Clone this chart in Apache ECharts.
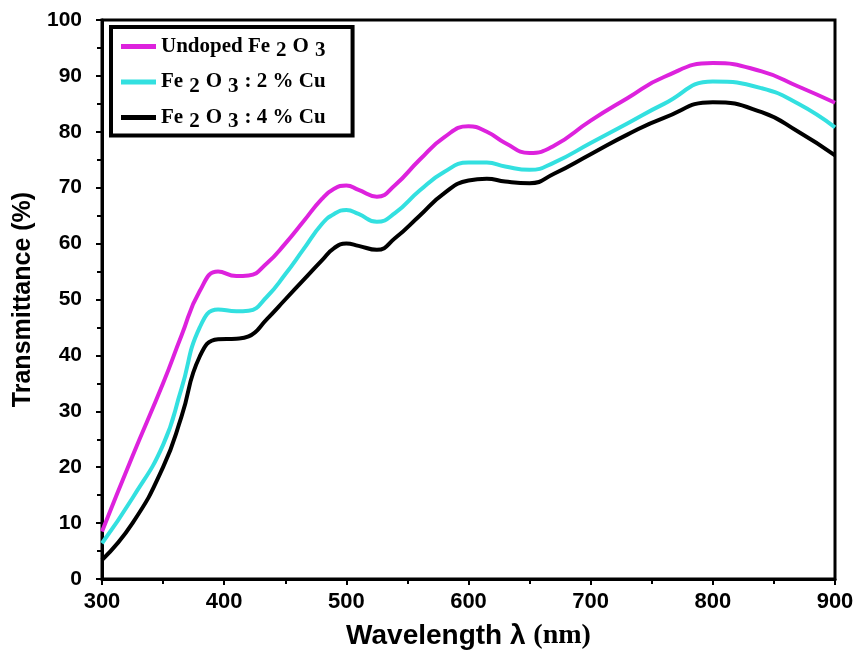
<!DOCTYPE html>
<html>
<head>
<meta charset="utf-8">
<script src="https://cdn.jsdelivr.net/npm/echarts@6/dist/echarts.min.js"></script>
<style>html,body{margin:0;padding:0;background:#fff;}#c{width:859px;height:661px;}</style>
</head>
<body>
<div id="c"></div>
<script>
var wavelength = [300,325,350,365,380,395,410,420,435,450,465,480,490,500,510,525,540,560,580,600,615,630,650,670,700,730,760,800,840,870,900];
var undoped = [8.5,22,35,43.5,51.5,55,54.2,54.3,56.5,60,64,68,69.8,70.4,69.6,68.4,70.5,75,79,81,80,78,76.2,77.5,82,86,89.8,92.3,90.8,88.1,85.2];
var cu2 = [6.4,14.5,24,34,45,48.2,47.9,48,50.5,54.5,59,63.5,65.3,66,65.3,63.9,65.5,69.5,72.8,74.5,74.5,73.8,73.2,74.5,78,81.5,85,89,87.8,85,80.8];
var cu4 = [3.4,10,20,29,39.8,42.9,43,43.4,46.5,50,53.5,57,59.2,60,59.6,58.9,61,65,69,71.3,71.6,71.1,70.8,72.5,76,79.5,82.5,85.3,83.5,80,75.8];
var seriesNames = ['Undoped Fe2O3','Fe2O3: 2 % Cu','Fe2O3: 4 % Cu'];
var legendLabels = ['Undoped Fe{s|2}O{s|3}','Fe{s|2}O{s|3}: 2 % Cu','Fe{s|2}O{s|3}: 4 % Cu'];
var colors = ['#DD22DD','#33E0E0','#000000'];

function pairs(ys){ return wavelength.map(function(x,i){ return [x, ys[i]]; }); }
var allY = [undoped, cu2, cu4];

var chart = echarts.init(document.getElementById('c'));
var option = {
  animation:false,
  backgroundColor:'#fff',
  grid:{left:102,right:24,top:20,bottom:82,show:true,borderColor:'#000',borderWidth:3,backgroundColor:'transparent'},
  legend:{
    orient:'vertical', left:111, top:27,
    backgroundColor:'#fff', borderColor:'#000', borderWidth:4,
    padding:[9,27,3,10], itemGap:10, itemWidth:35, itemHeight:5,
    icon:'rect',
    data:seriesNames,
    formatter:function(name){ return legendLabels[seriesNames.indexOf(name)]; },
    textStyle:{fontFamily:'Liberation Serif',fontWeight:'bold',fontSize:21,color:'#000',
      rich:{s:{fontFamily:'Liberation Serif',fontWeight:'bold',fontSize:21,color:'#000',padding:[9,6,0,6]}}}
  },
  xAxis:{
    type:'value', min:300, max:900, interval:100,
    axisLine:{lineStyle:{color:'#000',width:3}},
    axisTick:{show:true,inside:false,length:6,lineStyle:{width:2,color:'#000'}},
    minorTick:{show:true,splitNumber:2,length:5,lineStyle:{width:2,color:'#000'}},
    splitLine:{show:false},
    axisLabel:{color:'#000',fontFamily:'Liberation Sans',fontWeight:'bold',fontSize:22,margin:12},
    name:'{a|Wavelength λ }{b|(nm)}', nameLocation:'middle', nameGap:43,
    nameTextStyle:{rich:{a:{fontFamily:'Liberation Sans',fontWeight:'bold',fontSize:28,color:'#000'},b:{fontFamily:'Liberation Serif',fontWeight:'bold',fontSize:28,color:'#000'}}}
  },
  yAxis:{
    type:'value', min:0, max:100, interval:10,
    axisLine:{lineStyle:{color:'#000',width:3}},
    axisTick:{show:true,inside:false,length:6,lineStyle:{width:2,color:'#000'}},
    minorTick:{show:true,splitNumber:2,length:5,lineStyle:{width:2,color:'#000'}},
    splitLine:{show:false},
    axisLabel:{color:'#000',fontFamily:'Liberation Sans',fontWeight:'bold',fontSize:21,margin:20},
    name:'Transmittance (%)', nameLocation:'middle', nameGap:63, nameRotate:90,
    nameTextStyle:{fontFamily:'Liberation Sans',fontWeight:'bold',fontSize:25,color:'#000'}
  },
  series: seriesNames.map(function(n,i){
    return {name:n,type:'line',smooth:0.5,showSymbol:false,symbol:'none',data:pairs(allY[i]),
      lineStyle:{color:colors[i],width:4},itemStyle:{color:colors[i]},z:3-i};
  })
};
chart.setOption(option);
</script>
</body>
</html>
